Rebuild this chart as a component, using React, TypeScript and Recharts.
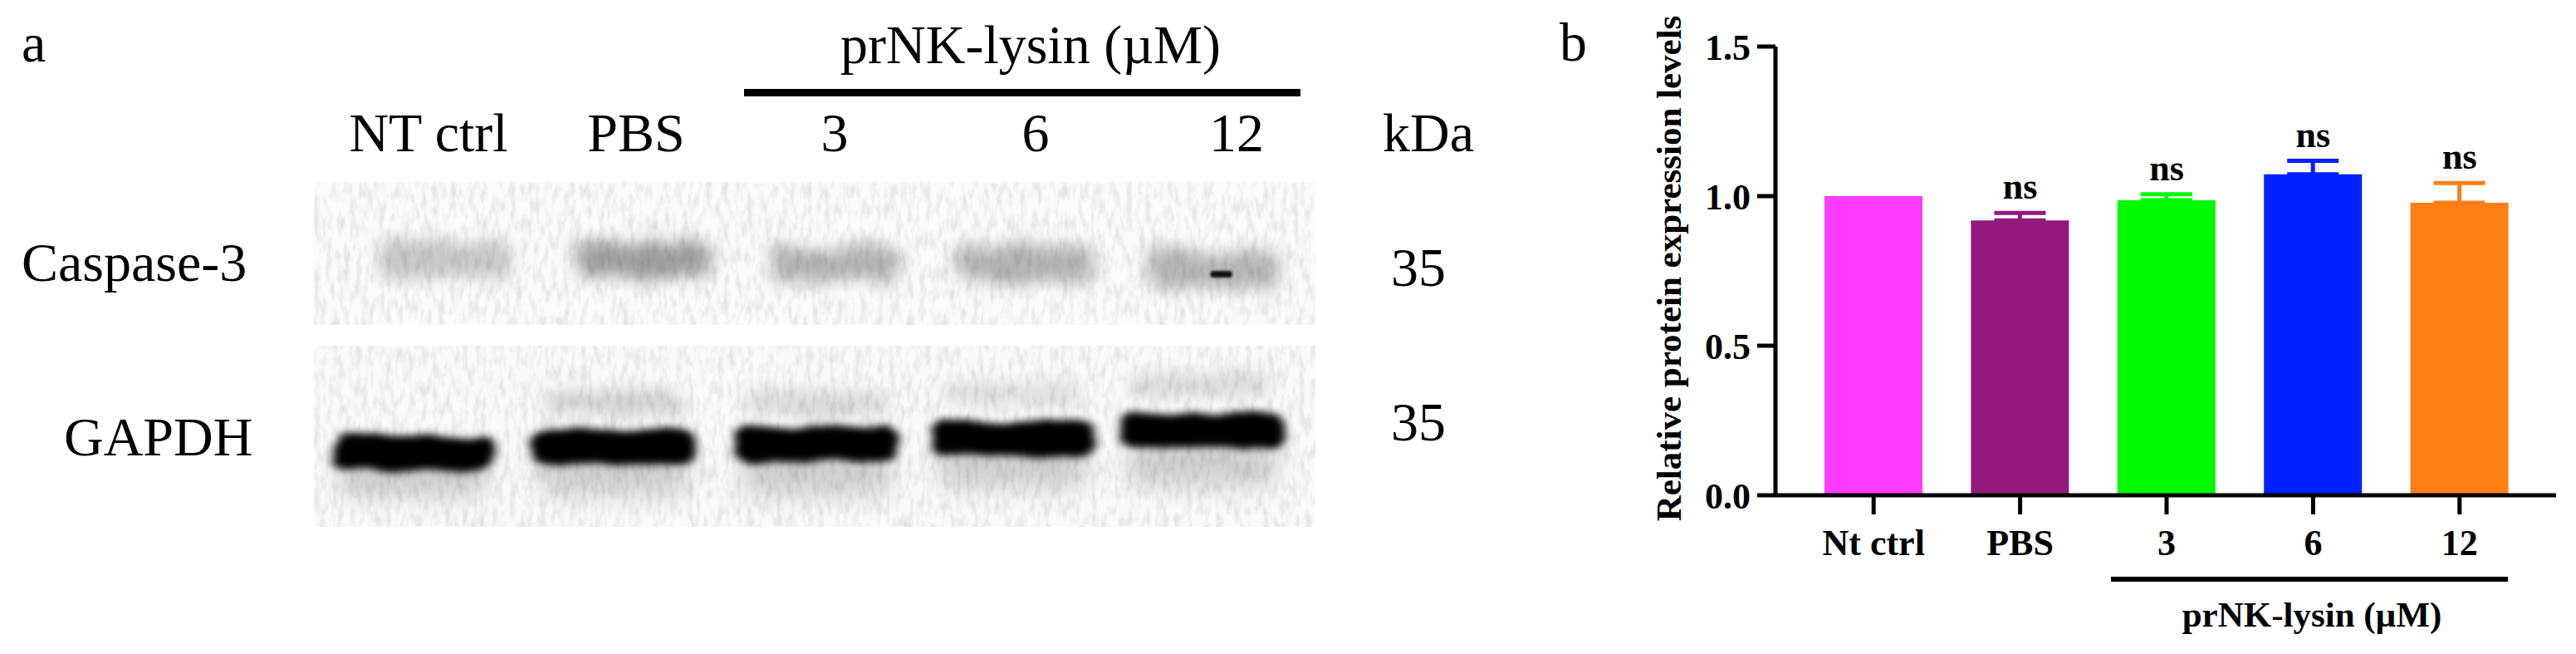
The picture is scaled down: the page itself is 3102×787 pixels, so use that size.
import React from 'react';
import {
  ComposedChart, Bar, Line, ErrorBar, XAxis, YAxis, LabelList,
  ScatterChart, Scatter,
} from 'recharts';

// panel b
const categories = ['Nt ctrl', 'PBS', '3', '6', '12'];
const means = [1.0, 0.919, 0.986, 1.073, 0.978];
const errorsUp = [0, 0.025, 0.02, 0.045, 0.066];
const significance = ['', 'ns', 'ns', 'ns', 'ns'];
const barColors = ['#ff3bff', '#931a7d', '#00fb00', '#0021ff', '#ff7f14'];
const yTicks = [0, 0.5, 1.0, 1.5];

// panel a, band positions are % of the blot strip
const laneLabels = ['NT ctrl', 'PBS', '3', '6', '12'];
const caspaseLanes = [13.0, 33.0, 52.1, 71.2, 89.9];
const caspasePos = [54, 54.5, 57.5, 57.5, 61];
const caspaseDark = [0.2, 0.36, 0.28, 0.28, 0.27];
const gapdhLanes = [9.9, 29.9, 50.2, 69.8, 88.7];
const gapdhPos = [59, 56, 54.5, 51, 47];
const gapdhUpperPos = [null, 31.6, 31.6, 26.6, 21.6];
const gapdhUpperDark = [0, 0.16, 0.13, 0.1, 0.12];
const gapdhSmearPos = [71, 70, 70, 66, 65];

const table = categories.map((name, i) => {
  const row: Record<string, any> = { name, top: i === 0 ? null : means[i] + errorsUp[i], sig: significance[i] };
  categories.forEach((_, j) => {
    row[`v${j}`] = i === j ? means[i] : 0;
    row[`e${j}`] = i === j && errorsUp[i] > 0 ? [0, errorsUp[i]] : [0, 0];
  });
  return row;
});

const SERIF = '"Liberation Serif", serif';

const NsLabel = (props: any) => {
  const { x, y, value } = props;
  if (!value || y == null) return null;
  return (
    <text x={x} y={y - 17} textAnchor="middle" fontFamily={SERIF} fontWeight="bold" fontSize={44} fill="#000">
      {value}
    </text>
  );
};

function band(w: number, h: number, filter: string) {
  return (props: any) => {
    const { cx, cy, payload } = props;
    if (cx == null || cy == null) return <g />;
    return (
      <rect x={cx - w / 2} y={cy - h / 2} width={w} height={h} rx={h / 3} fill="#000"
        fillOpacity={payload.dark} filter={`url(#${filter})`} />
    );
  };
}

function Blot({ left, top, width, height, series }: any) {
  return (
    <div style={{ position: 'absolute', left, top, width, height }}>
      <ScatterChart width={width} height={height} margin={{ top: 0, right: 0, bottom: 0, left: 0 }}>
        <XAxis type="number" dataKey="lane" domain={[0, 100]} hide />
        <YAxis type="number" dataKey="pos" domain={[0, 100]} reversed hide />
        {series.map((s: any, i: number) => (
          <Scatter key={i} data={s.data} isAnimationActive={false} shape={band(s.w, s.h, s.filter)} />
        ))}
      </ScatterChart>
    </div>
  );
}

const caspaseBands = caspaseLanes.map((lane, i) => ({ lane, pos: caspasePos[i], dark: caspaseDark[i] }));
const gapdhBands = gapdhLanes.map((lane, i) => ({ lane, pos: gapdhPos[i], dark: 1 }));
const gapdhUpper = gapdhLanes
  .map((lane, i) => ({ lane, pos: gapdhUpperPos[i], dark: gapdhUpperDark[i] }))
  .filter(b => b.pos !== null);
const gapdhSmear = gapdhLanes.map((lane, i) => ({ lane, pos: gapdhSmearPos[i], dark: 0.17 }));
const speck = [{ lane: 90.6, pos: 64.5, dark: 0.9 }];

const T = ({ x, y, anchor = 'middle', children }: any) => (
  <text x={x} y={y} textAnchor={anchor} fontFamily={SERIF} fontSize={66} fill="#000">{children}</text>
);

export default function App() {
  return (
    <div style={{ position: 'absolute', left: 0, top: 0, width: 3102, height: 787, background: '#fff', overflow: 'hidden' }}>
      <svg width={3102} height={787} style={{ position: 'absolute', left: 0, top: 0 }}>
        <defs>
          <filter id="noise" x="0" y="0" width="100%" height="100%">
            <feTurbulence type="fractalNoise" baseFrequency="0.14 0.05" numOctaves={3} seed={4} />
            <feColorMatrix type="matrix" values="0 0 0 0 0.35  0 0 0 0 0.35  0 0 0 0 0.35  0.6 0 0 0 -0.25" />
          </filter>
          <filter id="soft" x="-30%" y="-100%" width="160%" height="300%">
            <feTurbulence type="fractalNoise" baseFrequency="0.05 0.03" numOctaves={2} seed={9} result="t" />
            <feDisplacementMap in="SourceGraphic" in2="t" scale={26} />
            <feGaussianBlur stdDeviation="10 9" />
          </filter>
          <filter id="sharp" x="-20%" y="-80%" width="140%" height="260%">
            <feTurbulence type="fractalNoise" baseFrequency="0.02 0.05" numOctaves={2} seed={3} result="t" />
            <feDisplacementMap in="SourceGraphic" in2="t" scale={14} />
            <feGaussianBlur stdDeviation="6 5" />
          </filter>
          <filter id="haze" x="-30%" y="-100%" width="160%" height="300%">
            <feGaussianBlur stdDeviation="14 14" />
          </filter>
          <filter id="tiny" x="-50%" y="-50%" width="200%" height="200%">
            <feGaussianBlur stdDeviation="1.5" />
          </filter>
        </defs>
        <rect x={378} y={219} width={1206} height={172} fill="#fbfbfb" />
        <rect x={378} y={219} width={1206} height={172} filter="url(#noise)" />
        <rect x={378} y={416} width={1206} height={218} fill="#fafafa" />
        <rect x={378} y={416} width={1206} height={218} filter="url(#noise)" />
      </svg>

      <Blot left={378} top={219} width={1206} height={172} series={[
        { data: caspaseBands, w: 160, h: 46, filter: 'soft' },
        { data: speck, w: 26, h: 8, filter: 'tiny' },
      ]} />
      <Blot left={378} top={416} width={1206} height={218} series={[
        { data: gapdhSmear, w: 180, h: 56, filter: 'haze' },
        { data: gapdhUpper, w: 165, h: 28, filter: 'soft' },
        { data: gapdhBands, w: 196, h: 42, filter: 'sharp' },
      ]} />

      <div style={{ position: 'absolute', left: 1850, top: 0 }}>
        <ComposedChart width={1252} height={787} data={table} barSize={118}
          margin={{ top: 56, right: 24, bottom: 0, left: 0 }}>
          <XAxis dataKey="name" height={191} padding={{ left: 30, right: 28 }} interval={0}
            axisLine={{ stroke: '#000', strokeWidth: 5 }}
            tickLine={{ stroke: '#000', strokeWidth: 5 }} tickSize={23} tickMargin={18}
            tick={{ fontFamily: SERIF, fontWeight: 'bold', fontSize: 44, fill: '#000' }} />
          <YAxis width={288} domain={[0, 1.5]} ticks={yTicks} tickFormatter={(v: number) => v.toFixed(1)}
            axisLine={{ stroke: '#000', strokeWidth: 5 }}
            tickLine={{ stroke: '#000', strokeWidth: 5 }} tickSize={22} tickMargin={8}
            tick={{ fontFamily: SERIF, fontWeight: 'bold', fontSize: 44, fill: '#000' }} />
          {categories.map((c, i) => (
            <Bar key={c} dataKey={`v${i}`} stackId="a" fill={barColors[i]} isAnimationActive={false}>
              {errorsUp[i] > 0 && (
                <ErrorBar dataKey={`e${i}`} direction="y" width={31} stroke={barColors[i]} strokeWidth={5} />
              )}
            </Bar>
          ))}
          <Line dataKey="top" stroke="none" dot={false} isAnimationActive={false}>
            <LabelList dataKey="sig" content={<NsLabel />} />
          </Line>
        </ComposedChart>
      </div>

      <svg width={3102} height={787} style={{ position: 'absolute', left: 0, top: 0, pointerEvents: 'none' }}>
        <T x={26} y={74} anchor="start">a</T>
        <T x={1241} y={76}>prNK-lysin (µM)</T>
        <rect x={896} y={107} width={670} height={9} fill="#000" />
        {laneLabels.map((l, i) => (
          <T key={l} x={[516, 766, 1005, 1247, 1489][i]} y={182}>{l}</T>
        ))}
        <T x={1720} y={182}>kDa</T>
        <T x={26} y={338} anchor="start">Caspase-3</T>
        <T x={77} y={548} anchor="start">GAPDH</T>
        <T x={1708} y={344}>35</T>
        <T x={1708} y={530}>35</T>
        <T x={1878} y={73} anchor="start">b</T>
        <text transform="translate(2024,323) rotate(-90)" textAnchor="middle" fontFamily={SERIF}
          fontWeight="bold" fontSize={43} fill="#000">Relative protein expression levels</text>
        <rect x={2542} y={694} width={478} height={6} fill="#000" />
        <text x={2784} y={754} textAnchor="middle" fontFamily={SERIF} fontWeight="bold" fontSize={43} fill="#000">
          prNK-lysin (µM)
        </text>
      </svg>
    </div>
  );
}
